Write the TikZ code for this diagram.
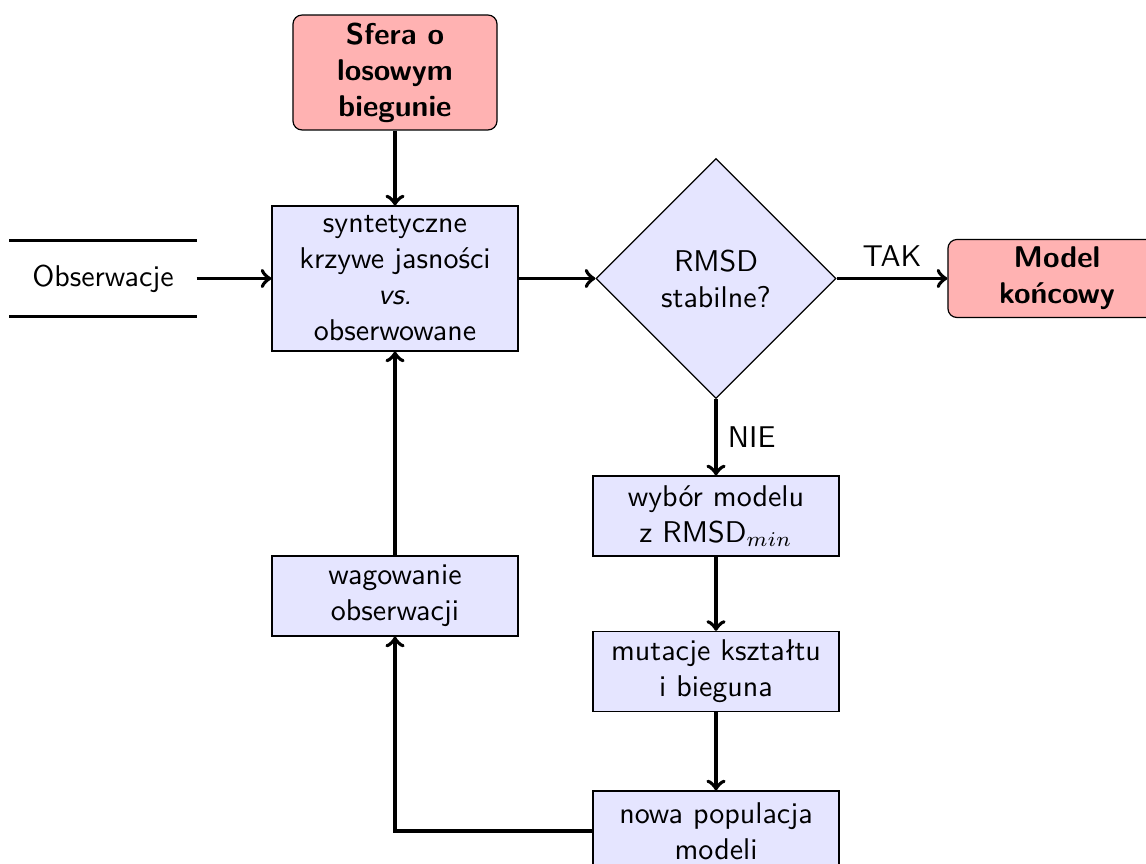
\documentclass[tikz,border=0pt]{standalone}
\usetikzlibrary{shapes.geometric}
\begin{document}
\begin{tikzpicture}[x=0.3333pt, y=-0.3333pt, font=\sffamily,
  procbox/.style={draw, fill=blue!10, align=center, minimum width=82pt,
                  minimum height=26.7pt, inner sep=1.5pt},
  termbox/.style={draw, fill=red!30, rounded corners=3pt, align=center,
                  font=\sffamily\bfseries, inner sep=1.5pt},
  decision/.style={draw, fill=blue!10, diamond, aspect=1, align=center,
                   minimum width=80pt, minimum height=80pt, inner sep=0pt},
  flow/.style={->, line width=1.3pt},
  storeline/.style={line width=1.2pt}]
\useasboundingbox (0,0) rectangle (1146,864);

% nodes
\node[termbox, minimum width=68pt, minimum height=38.3pt] (start) at (395,72.5)
  {Sfera o\\losowym\\biegunie};
\node[procbox, minimum height=48.3pt] (compare) at (395,278.5)
  {syntetyczne\\krzywe jasności\\\textit{vs.}\\obserwowane};
\node[align=center, minimum width=62pt, minimum height=25pt, inner sep=0pt] (obs) at (103,278.5)
  {Obserwacje};
\node[decision] (rmsd) at (716,278.5) {RMSD\\stabilne?};
\node[termbox, minimum width=72.7pt, minimum height=26pt] (final) at (1057,278.5)
  {Model\\końcowy};
\node[procbox] (select) at (716,516) {wybór modelu\\z RMSD$_{min}$};
\node[procbox] (mutate) at (716,671.5) {mutacje kształtu\\i bieguna};
\node[procbox] (newpop) at (716,831) {nowa populacja\\modeli};
\node[procbox] (weight) at (395,596) {wagowanie\\obserwacji};

% data store lines around the observations
\draw[storeline] (obs.north west) -- (obs.north east);
\draw[storeline] (obs.south west) -- (obs.south east);

% connectors
\draw[flow] (start) -- (compare);
\draw[flow] (obs) -- (compare);
\draw[flow] (compare) -- (rmsd);
\draw[flow] (rmsd) -- node[above] {TAK} (final);
\draw[flow] (rmsd) -- node[right] {NIE} (select);
\draw[flow] (select) -- (mutate);
\draw[flow] (mutate) -- (newpop);
\draw[flow] (newpop.west) -| (weight.south);
\draw[flow] (weight) -- (compare);
\end{tikzpicture}
\end{document}
